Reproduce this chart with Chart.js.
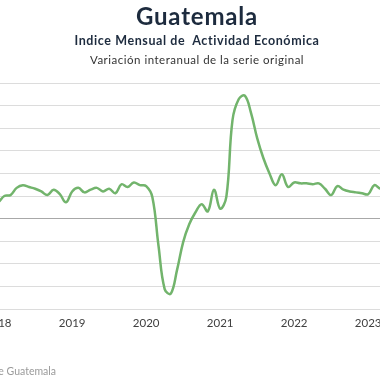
<!DOCTYPE html>
<html>
<head>
<meta charset="utf-8">
<script src="https://cdn.jsdelivr.net/npm/chart.js@4"></script>
<style>
  html, body { margin:0; padding:0; width:380px; height:380px; overflow:hidden; background:#fff; }
  #wrap { position:relative; width:380px; height:380px; overflow:hidden; }
  #c { position:absolute; top:0; left:-28px; }
  .t { position:absolute; left:0; width:394px; text-align:center; white-space:nowrap; font-family:"Century Gothic","URW Gothic",Lato,"Open Sans",sans-serif; }
  #t1 { top:1px; font-size:24px; font-weight:bold; color:#1d2b3e; letter-spacing:0.8px; }
  #t2 { top:33px; font-size:12.5px; font-weight:bold; color:#1d2b3e; letter-spacing:0.6px; }
  #t3 { top:53px; font-size:11.5px; color:#333; letter-spacing:0.5px; }
  #src { position:absolute; top:365px; right:324px; white-space:nowrap; font-family:"Century Gothic",Lato,"Open Sans",sans-serif; font-size:10.5px; color:#9a9a9a; }
</style>
</head>
<body>
<div id="wrap">
  <canvas id="c" width="470" height="380"></canvas>
  <div class="t" id="t1">Guatemala</div>
  <div class="t" id="t2">Indice Mensual de&nbsp; Actividad Económica</div>
  <div class="t" id="t3">Variación interanual de la serie original</div>
  <div id="src">Fuente: Banco de Guatemala</div>
</div>
<script>
// Months Dec 2017 .. Apr 2023
const startYear = 2017, startMonth = 12;
const months = [];
(function(){ let y = startYear, m = startMonth; for (let i = 0; i < 65; i++) { months.push(y + '-' + String(m).padStart(2,'0')); m++; if (m > 12) { m = 1; y++; } } })();

const imaeVariation = [
  1.5,
  1.8, 2.5, 2.6, 3.4, 3.7, 3.5, 3.3, 3.0, 2.6, 3.2, 2.7, 1.8,
  3.0, 3.4, 2.9, 3.2, 3.4, 3.0, 3.3, 2.8, 3.8, 3.5, 4.0, 3.7,
  3.6, 2.4, -3.0, -7.8, -8.3, -5.7, -2.6, -0.6, 0.7, 1.6, 0.8, 3.2,
  1.1, 2.4, 10.9, 13.2, 13.6, 11.7, 8.9, 6.7, 5.0, 3.7, 4.9, 3.5,
  4.0, 3.9, 3.9, 3.8, 3.9, 3.3, 2.6, 3.6, 3.2, 3.0, 2.9, 2.8,
  2.7, 3.7, 3.3, 3.5
];

const yMin = -10, yMax = 15, yStep = 2.5;

const canvas = document.getElementById('c');
const chart = new Chart(canvas, {
  type: 'line',
  data: {
    labels: months,
    datasets: [{
      data: imaeVariation,
      borderColor: '#72b46c',
      borderWidth: 2.5,
      pointRadius: 0,
      tension: 0.4,
      fill: false
    }]
  },
  options: {
    responsive: false,
    animation: false,
    devicePixelRatio: 1,
    layout: { padding: { left: 20, right: 50, top: 83, bottom: 41 } },
    plugins: { legend: { display: false }, title: { display: false }, tooltip: { enabled: false } },
    scales: {
      x: {
        grid: { display: false, drawTicks: false },
        border: { display: false },
        afterFit: s => { s.height = 30; },
        ticks: {
          autoSkip: false, maxRotation: 0, padding: 7,
          color: '#404040',
          font: { family: 'Lato, "Open Sans", sans-serif', size: 11.5 },
          callback: function(v, i) { const l = months[i]; return l.endsWith('-01') ? l.slice(0,4) : ''; }
        }
      },
      y: {
        min: yMin, max: yMax,
        ticks: { display: false, stepSize: yStep },
        grid: { drawTicks: false, color: c => (c.tick && c.tick.value === 0) ? '#a8a8a8' : '#dcdcdc', lineWidth: 1 },
        border: { display: false },
        afterFit: s => { s.width = 0; }
      }
    }
  }
});

// Fit month spacing and align canvas so that the January 2018 tick sits at the reference position
const desiredW = (months.length - 1) * (74 / 12);
const actualW = chart.chartArea.right - chart.chartArea.left;
chart.options.layout.padding.right += (actualW - desiredW);
chart.update();
const xJan18 = chart.scales.x.getPixelForValue(1);
canvas.style.left = (-1.5 - xJan18) + 'px';
</script>
</body>
</html>
